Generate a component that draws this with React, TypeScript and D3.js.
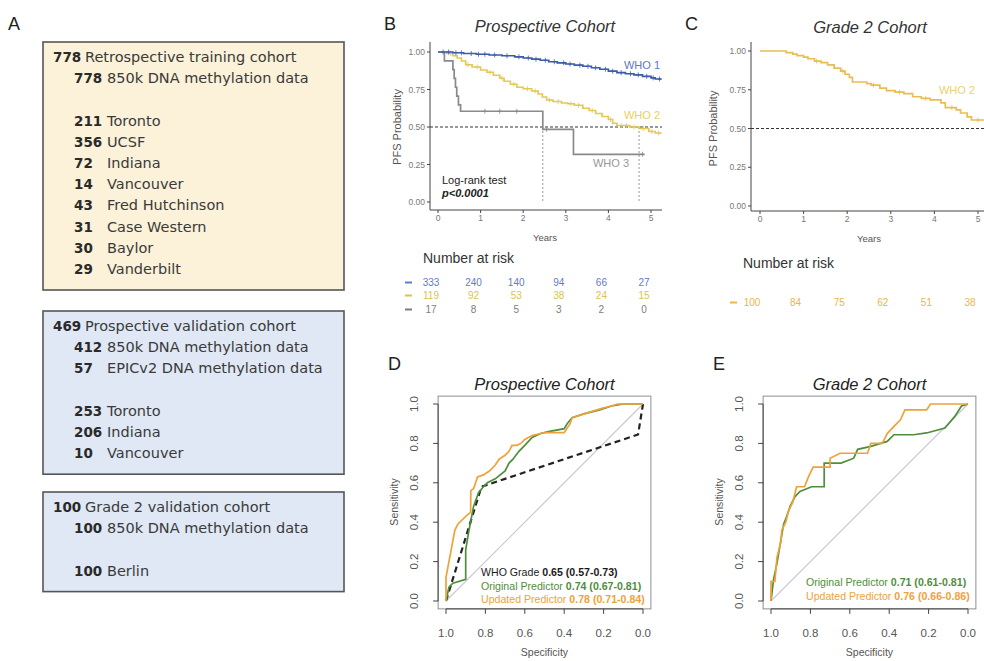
import React from 'react'
import * as d3 from 'd3'

type Row = [string, string, number] | null
type Pt = [number, number]

// ---------- Panel A: cohort overview (count, label, indent level; null = blank line) ----------
const trainingCohort: Row[] = [
  ['778', 'Retrospective training cohort', 0],
  ['778', '850k DNA methylation data', 1],
  null,
  ['211', 'Toronto', 1],
  ['356', 'UCSF', 1],
  ['72', 'Indiana', 1],
  ['14', 'Vancouver', 1],
  ['43', 'Fred Hutchinson', 1],
  ['31', 'Case Western', 1],
  ['30', 'Baylor', 1],
  ['29', 'Vanderbilt', 1],
]
const prospectiveCohort: Row[] = [
  ['469', 'Prospective validation cohort', 0],
  ['412', '850k DNA methylation data', 1],
  ['57', 'EPICv2 DNA methylation data', 1],
  null,
  ['253', 'Toronto', 1],
  ['206', 'Indiana', 1],
  ['10', 'Vancouver', 1],
]
const grade2Cohort: Row[] = [
  ['100', 'Grade 2 validation cohort', 0],
  ['100', '850k DNA methylation data', 1],
  null,
  ['100', 'Berlin', 1],
]

// ---------- Panels B / C: Kaplan-Meier ----------
const years = [0, 1, 2, 3, 4, 5]
const survTicks = [0, 0.25, 0.5, 0.75, 1]
const survTickLabels = ['0.00', '0.25', '0.50', '0.75', '1.00']

// [time in years, survival after step]
const who1Steps: Pt[] = [
  [0, 1], [0.35, 0.995], [0.6, 0.99], [0.9, 0.985], [1.2, 0.98], [1.5, 0.975], [1.8, 0.968],
  [2.0, 0.96], [2.2, 0.952], [2.4, 0.945], [2.6, 0.935], [2.8, 0.928], [3.0, 0.92], [3.2, 0.912],
  [3.4, 0.905], [3.6, 0.895], [3.8, 0.885], [4.0, 0.872], [4.2, 0.862], [4.4, 0.855], [4.6, 0.848],
  [4.8, 0.838], [5.0, 0.828], [5.1, 0.82],
]
const who1End = 5.25
const who1Censor = [0.12, 0.25, 0.42, 0.55, 0.78, 0.95, 1.1, 1.33, 1.62, 1.9, 2.12, 2.3, 2.52, 2.73, 2.95, 3.1, 3.33, 3.52, 3.7, 3.93, 4.1, 4.3, 4.52, 4.7, 4.9, 5.05, 5.2]

const who2Steps: Pt[] = [
  [0, 1], [0.2, 0.99], [0.35, 0.975], [0.45, 0.96], [0.55, 0.94], [0.65, 0.915], [0.8, 0.9],
  [1.0, 0.88], [1.15, 0.865], [1.3, 0.845], [1.45, 0.825], [1.55, 0.805], [1.7, 0.785], [1.85, 0.765],
  [2.0, 0.755], [2.2, 0.74], [2.35, 0.72], [2.45, 0.7], [2.55, 0.68], [2.7, 0.67], [2.9, 0.66],
  [3.05, 0.655], [3.2, 0.645], [3.4, 0.625], [3.55, 0.61], [3.7, 0.59], [3.85, 0.57], [4.0, 0.55],
  [4.1, 0.525], [4.2, 0.51], [4.5, 0.5], [4.72, 0.49], [4.95, 0.47], [5.1, 0.46],
]
const who2End = 5.25
const who2Censor = [0.3, 0.7, 0.92, 1.22, 1.5, 1.78, 2.1, 2.28, 2.62, 2.82, 3.12, 3.3, 3.62, 4.05, 4.3, 4.42, 4.6, 4.82, 5.02, 5.18]

const who3Steps: Pt[] = [
  [0, 1], [0.15, 0.941], [0.35, 0.882], [0.38, 0.824], [0.41, 0.765], [0.44, 0.706], [0.48, 0.647],
  [0.53, 0.605], [2.46, 0.484], [3.18, 0.318],
]
const who3End = 4.85
const who3Censor = [1.1, 1.45, 1.85, 2.55, 4.8]

const mediansB = [2.46, 4.72]
const groupLabels = ['WHO 1', 'WHO 2', 'WHO 3']

const grade2Steps: Pt[] = [
  [0, 1], [0.6, 0.99], [0.75, 0.98], [0.85, 0.97], [1.0, 0.96], [1.1, 0.95], [1.25, 0.935],
  [1.4, 0.925], [1.55, 0.91], [1.7, 0.89], [1.85, 0.87], [1.95, 0.85], [2.05, 0.83], [2.12, 0.8],
  [2.45, 0.79], [2.55, 0.78], [2.75, 0.76], [2.9, 0.745], [3.1, 0.735], [3.3, 0.725], [3.5, 0.705],
  [3.7, 0.695], [3.9, 0.685], [4.15, 0.665], [4.25, 0.635], [4.5, 0.62], [4.6, 0.6], [4.75, 0.575],
  [4.85, 0.555],
]
const grade2End = 5.2
const grade2Censor = [1.3, 1.9, 2.6, 3.2, 3.8, 4.4, 5.0]

// number at risk at years 0..5
const riskWho1 = [333, 240, 140, 94, 66, 27]
const riskWho2 = [119, 92, 53, 38, 24, 15]
const riskWho3 = [17, 8, 5, 3, 2, 0]
const riskGrade2 = [100, 84, 75, 62, 51, 38]

// ---------- Panels D / E: ROC curves, [specificity, sensitivity] ----------
const rocTicks = [1, 0.8, 0.6, 0.4, 0.2, 0]
const rocTickLabels = ['1.0', '0.8', '0.6', '0.4', '0.2', '0.0']

const rocWhoGradeD: Pt[] = [[1, 0], [0.82, 0.58], [0.025, 0.845], [0, 1]]
const rocOriginalD: Pt[] = [
  [1, 0], [0.985, 0.07], [0.965, 0.09], [0.9, 0.11], [0.9, 0.26], [0.885, 0.35], [0.86, 0.48],
  [0.835, 0.55], [0.81, 0.58], [0.79, 0.6], [0.75, 0.62], [0.7, 0.66], [0.68, 0.7], [0.66, 0.72],
  [0.63, 0.76], [0.6, 0.79], [0.563, 0.83], [0.52, 0.85], [0.48, 0.86], [0.4, 0.875], [0.385, 0.9],
  [0.36, 0.93], [0.3, 0.95], [0.22, 0.97], [0.16, 0.99], [0.1, 1], [0, 1],
]
const rocUpdatedD: Pt[] = [
  [1, 0], [1, 0.12], [0.985, 0.2], [0.97, 0.28], [0.955, 0.36], [0.94, 0.39], [0.92, 0.41],
  [0.9, 0.43], [0.875, 0.45], [0.874, 0.56], [0.86, 0.57], [0.84, 0.63], [0.81, 0.64], [0.78, 0.66],
  [0.75, 0.69], [0.73, 0.72], [0.7, 0.74], [0.68, 0.76], [0.665, 0.79], [0.64, 0.79], [0.62, 0.8],
  [0.6, 0.82], [0.563, 0.84], [0.5, 0.855], [0.4, 0.855], [0.37, 0.9], [0.36, 0.93], [0.33, 0.94],
  [0.3, 0.95], [0.25, 0.965], [0.2, 0.98], [0.16, 0.99], [0.13, 1], [0, 1],
]
const rocOriginalE: Pt[] = [
  [1, 0], [0.987, 0.11], [0.97, 0.19], [0.953, 0.29], [0.936, 0.39], [0.92, 0.43], [0.903, 0.48],
  [0.878, 0.53], [0.853, 0.556], [0.794, 0.58], [0.73, 0.58], [0.73, 0.7], [0.644, 0.7], [0.58, 0.725],
  [0.56, 0.77], [0.493, 0.785], [0.41, 0.81], [0.376, 0.844], [0.276, 0.844], [0.21, 0.853],
  [0.117, 0.878], [0.067, 0.937], [0.033, 0.99], [0, 1],
]
const rocUpdatedE: Pt[] = [
  [1, 0], [1, 0.1], [0.98, 0.1], [0.97, 0.22], [0.95, 0.3], [0.945, 0.36], [0.925, 0.4], [0.91, 0.46],
  [0.89, 0.5], [0.87, 0.58], [0.83, 0.58], [0.81, 0.63], [0.786, 0.68], [0.7, 0.68], [0.7, 0.725],
  [0.65, 0.75], [0.51, 0.75], [0.493, 0.8], [0.435, 0.8], [0.41, 0.85], [0.376, 0.886], [0.343, 0.92],
  [0.32, 0.97], [0.21, 0.97], [0.19, 1], [0, 1],
]
const legendD = [
  ['WHO Grade', '0.65 (0.57-0.73)'],
  ['Original Predictor', '0.74 (0.67-0.81)'],
  ['Updated Predictor', '0.78 (0.71-0.84)'],
]
const legendE = [
  ['Original Predictor', '0.71 (0.61-0.81)'],
  ['Updated Predictor', '0.76 (0.66-0.86)'],
]

const BLUE = '#3d5ca8'
const YELLOW = '#e3c955'
const GRAY = '#8a8a8a'
const GOLD = '#e9bd52'
const GREEN = '#4f8e3c'
const ORANGE = '#eea23a'
const SANS = 'Liberation Sans, Arial, sans-serif'

function CohortBox({ rows, top, fill }: { rows: Row[]; top: number; fill: string }) {
  const lineH = 21.2
  const h = 15 + (rows.length - 1) * lineH + 21
  return (
    <g fontFamily="DejaVu Sans, sans-serif" fontSize={14.5}>
      <rect x={43} y={top} width={301} height={h} fill={fill} stroke="#555" strokeWidth={1.6} />
      {rows.map((r, i) =>
        r ? (
          <g key={i}>
            <text x={r[2] ? 74 : 53} y={top + 20 + i * lineH} fontWeight="bold" fontSize={13.5} fill="#2a2a2a">{r[0]}</text>
            <text x={r[2] ? 107 : 85} y={top + 20 + i * lineH} fill="#3a3a3a">{r[1]}</text>
          </g>
        ) : null
      )}
    </g>
  )
}

const survAt = (steps: Pt[], t: number) => {
  let s = 1
  for (const [tt, ss] of steps) if (tt <= t) s = ss
  return s
}

function KMCurve({ steps, end, censor, color, x, y }: any) {
  const pts: Pt[] = [...steps, [end, steps[steps.length - 1][1]]]
  const line = d3.line<Pt>().x(d => x(d[0])).y(d => y(d[1])).curve(d3.curveStepAfter)
  return (
    <g stroke={color} fill="none">
      <path d={line(pts) || ''} strokeWidth={1.7} />
      {censor.map((c: number, i: number) => {
        const cx = x(c), cy = y(survAt(steps, c))
        return <path key={i} d={`M${cx},${cy - 2.5}V${cy + 2.5}M${cx - 2},${cy}H${cx + 2}`} strokeWidth={0.8} />
      })}
    </g>
  )
}

function KMAxes({ x, y, axisX, axisY, xEnd, yTop }: any) {
  return (
    <g fontFamily={SANS} fontSize={8.5} fill="#777">
      <line x1={axisX} x2={axisX} y1={yTop} y2={axisY} stroke="#444" />
      <line x1={axisX} x2={xEnd} y1={axisY} y2={axisY} stroke="#444" />
      {survTicks.map((t, i) => (
        <g key={i}>
          <line x1={axisX - 3} x2={axisX} y1={y(t)} y2={y(t)} stroke="#444" />
          <text x={axisX - 5} y={y(t) + 3} textAnchor="end">{survTickLabels[i]}</text>
        </g>
      ))}
      {years.map(t => (
        <g key={t}>
          <line x1={x(t)} x2={x(t)} y1={axisY} y2={axisY + 3} stroke="#444" />
          <text x={x(t)} y={axisY + 11} textAnchor="middle">{t}</text>
        </g>
      ))}
    </g>
  )
}

function RiskRow({ values, x, y, color, dashX }: any) {
  return (
    <g fill={color} fontFamily={SANS} fontSize={10}>
      <line x1={dashX - 3} x2={dashX + 4} y1={y - 3.5} y2={y - 3.5} stroke={color} strokeWidth={2} />
      {values.map((v: number, i: number) => (
        <text key={i} x={x(years[i])} y={y} textAnchor="middle">{v}</text>
      ))}
    </g>
  )
}

function PanelB() {
  const x = d3.scaleLinear().domain([0, 5]).range([438, 651])
  const y = d3.scaleLinear().domain([0, 1]).range([202, 52])
  const rx = d3.scaleLinear().domain([0, 5]).range([431, 644])
  return (
    <g>
      <text x={384} y={30} fontFamily={SANS} fontSize={18} fill="#222">B</text>
      <text x={545} y={32} fontFamily={SANS} fontSize={16.5} fontStyle="italic" textAnchor="middle" fill="#333">Prospective Cohort</text>
      <KMAxes x={x} y={y} axisX={430} axisY={210} xEnd={662} yTop={42} />
      <line x1={430} x2={662} y1={y(0.5)} y2={y(0.5)} stroke="#333" strokeDasharray="3,2" />
      {mediansB.map((m, i) => (
        <line key={i} x1={x(m)} x2={x(m)} y1={y(0.5)} y2={y(0)} stroke="#999" strokeDasharray="2,2" />
      ))}
      <KMCurve steps={who3Steps} end={who3End} censor={who3Censor} color={GRAY} x={x} y={y} />
      <KMCurve steps={who2Steps} end={who2End} censor={who2Censor} color={YELLOW} x={x} y={y} />
      <KMCurve steps={who1Steps} end={who1End} censor={who1Censor} color={BLUE} x={x} y={y} />
      <g fontFamily={SANS} fontSize={11}>
        <text x={642} y={69} textAnchor="middle" fill="#5a78c6">{groupLabels[0]}</text>
        <text x={642} y={119} textAnchor="middle" fill="#e6d166">{groupLabels[1]}</text>
        <text x={611} y={167} textAnchor="middle" fill="#999">{groupLabels[2]}</text>
        <text x={442} y={184} fill="#222">Log-rank test</text>
        <text x={442} y={197} fill="#222" fontWeight="bold" fontStyle="italic">p&lt;0.0001</text>
      </g>
      <text transform={`translate(401,${y(0.5)}) rotate(-90)`} textAnchor="middle" fontFamily={SANS} fontSize={11} fill="#555">PFS Probability</text>
      <text x={545} y={241} textAnchor="middle" fontFamily={SANS} fontSize={9.5} fill="#555">Years</text>
      <text x={423} y={263} fontFamily={SANS} fontSize={14} fill="#333">Number at risk</text>
      <RiskRow values={riskWho1} x={rx} y={286} color="#5f7cc6" dashX={408} />
      <RiskRow values={riskWho2} x={rx} y={299} color="#d9c44c" dashX={408} />
      <RiskRow values={riskWho3} x={rx} y={313} color="#7d7d7d" dashX={408} />
    </g>
  )
}

function PanelC() {
  const x = d3.scaleLinear().domain([0, 5]).range([760, 978])
  const y = d3.scaleLinear().domain([0, 1]).range([206, 51])
  const rx = d3.scaleLinear().domain([0, 5]).range([752, 970])
  return (
    <g>
      <text x={685} y={30} fontFamily={SANS} fontSize={18} fill="#222">C</text>
      <text x={870} y={33} fontFamily={SANS} fontSize={16.5} fontStyle="italic" textAnchor="middle" fill="#333">Grade 2 Cohort</text>
      <KMAxes x={x} y={y} axisX={751} axisY={211} xEnd={984} yTop={42} />
      <line x1={751} x2={984} y1={y(0.5)} y2={y(0.5)} stroke="#333" strokeDasharray="3,2" />
      <KMCurve steps={grade2Steps} end={grade2End} censor={grade2Censor} color={GOLD} x={x} y={y} />
      <text x={957} y={94} textAnchor="middle" fontFamily={SANS} fontSize={11} fill="#ecd26c">{groupLabels[1]}</text>
      <text transform={`translate(717,${y(0.5)}) rotate(-90)`} textAnchor="middle" fontFamily={SANS} fontSize={11} fill="#555">PFS Probability</text>
      <text x={869} y={242} textAnchor="middle" fontFamily={SANS} fontSize={9.5} fill="#555">Years</text>
      <text x={743} y={268} fontFamily={SANS} fontSize={14} fill="#333">Number at risk</text>
      <RiskRow values={riskGrade2} x={rx} y={306} color="#eab54a" dashX={733} />
    </g>
  )
}

function RocPanel({ left, label, title, curves, legend, legendColors, legendTop }: any) {
  const x = d3.scaleLinear().domain([1, 0]).range([left + 8, left + 205])
  const y = d3.scaleLinear().domain([0, 1]).range([601, 404])
  const bx0 = x(1.04), bx1 = x(-0.04), by0 = y(1.04), by1 = y(-0.04)
  const line = d3.line<Pt>().x(d => x(d[0])).y(d => y(d[1]))
  const mid = (bx0 + bx1) / 2
  return (
    <g fontFamily={SANS}>
      <text x={left - 50} y={370} fontSize={18} fill="#222">{label}</text>
      <text x={mid} y={390} fontSize={16.5} fontStyle="italic" textAnchor="middle" fill="#222">{title}</text>
      <rect x={bx0} y={by0} width={bx1 - bx0} height={by1 - by0} fill="none" stroke="#8c8f99" />
      <line x1={x(1)} x2={x(0)} y1={y(0)} y2={y(1)} stroke="#c9c9d6" strokeWidth={1.2} />
      {curves.map((c: any, i: number) => (
        <path key={i} d={line(c.pts) || ''} fill="none" stroke={c.color} strokeWidth={c.dash ? 2.2 : 1.7} strokeDasharray={c.dash ? '6,4' : undefined} />
      ))}
      <g fontSize={11.5} fill="#555">
        {rocTicks.map((t, i) => (
          <g key={i}>
            <line x1={x(t)} x2={x(t)} y1={by1} y2={by1 + 5} stroke="#444" />
            <text x={x(t)} y={by1 + 28} textAnchor="middle">{rocTickLabels[i]}</text>
            <line x1={bx0 - 5} x2={bx0} y1={y(1 - i * 0.2)} y2={y(1 - i * 0.2)} stroke="#444" />
            <text transform={`translate(${bx0 - 20},${y(1 - i * 0.2)}) rotate(-90)`} textAnchor="middle">{rocTickLabels[i]}</text>
          </g>
        ))}
      </g>
      <line x1={x(1)} x2={x(0)} y1={by1} y2={by1} stroke="#444" />
      <line x1={bx0} x2={bx0} y1={y(0)} y2={y(1)} stroke="#444" />
      <text x={mid} y={656} fontSize={10.5} textAnchor="middle" fill="#555">Specificity</text>
      <text transform={`translate(${bx0 - 40},502) rotate(-90)`} fontSize={10.5} textAnchor="middle" fill="#555">Sensitivity</text>
      <g fontSize={10.6}>
        {legend.map((l: string[], i: number) => (
          <text key={i} x={left + 43} y={legendTop + i * 13.6} fill={legendColors[i]}>
            {l[0]} <tspan fontWeight="bold">{l[1]}</tspan>
          </text>
        ))}
      </g>
    </g>
  )
}

export default function App() {
  return (
    <svg width={984} height={661} style={{ position: 'absolute', left: 0, top: 0, background: '#fff' }}>
      <text x={8} y={30} fontFamily={SANS} fontSize={18} fill="#222">A</text>
      <CohortBox rows={trainingCohort} top={42} fill="#fcf1d9" />
      <CohortBox rows={prospectiveCohort} top={311} fill="#dfe8f4" />
      <CohortBox rows={grade2Cohort} top={492} fill="#dfe8f4" />
      <PanelB />
      <PanelC />
      <RocPanel
        left={438}
        label="D"
        title="Prospective Cohort"
        curves={[
          { pts: rocWhoGradeD, color: '#222', dash: true },
          { pts: rocOriginalD, color: GREEN },
          { pts: rocUpdatedD, color: ORANGE },
        ]}
        legend={legendD}
        legendColors={['#1a1a1a', GREEN, ORANGE]}
        legendTop={576}
      />
      <RocPanel
        left={763}
        label="E"
        title="Grade 2 Cohort"
        curves={[
          { pts: rocOriginalE, color: GREEN },
          { pts: rocUpdatedE, color: ORANGE },
        ]}
        legend={legendE}
        legendColors={[GREEN, ORANGE]}
        legendTop={586}
      />
    </svg>
  )
}
